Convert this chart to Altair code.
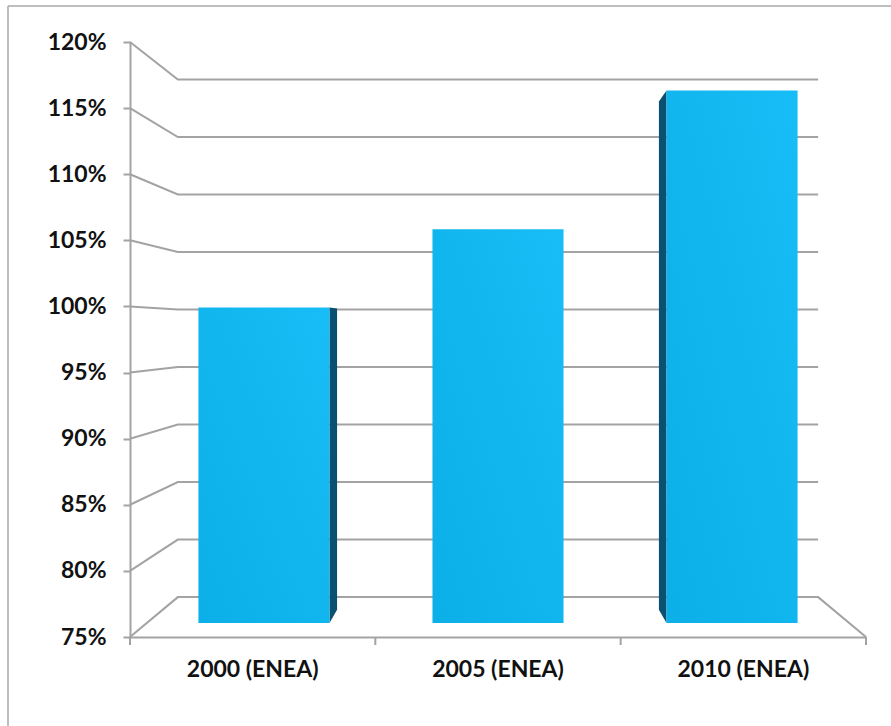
import altair as alt
import pandas as pd

# ---- chart values -------------------------------------------------------
categories = ["2000 (ENEA)", "2005 (ENEA)", "2010 (ENEA)"]
values = [100.0, 106.2, 117.2]          # percent
tick_values = [75, 80, 85, 90, 95, 100, 105, 110, 115, 120]

# ---- simple one-point perspective for the 3D look -----------------------
BASE = 75.0          # floor level (bottom of value axis)
U_C, V_C = 1.5, 98.2  # vanishing point in data units (x slots, percent)
WALL = 0.87          # scale factor of the back wall
BAR_FRONT = 0.954    # scale factor of the bars' front faces
BAR_BACK = 0.911     # scale factor of the bars' back faces
HALF_W = 0.28        # half bar width, in category slots
TICK_LEN = 8 / 13.22  # floor tick length, in percent units


def proj(u, v, s):
    return U_C + (u - U_C) * s, V_C + (v - V_C) * s


# side wall + back wall gridlines (and the floor outline at 75%)
grid_rows = []
for lv in tick_values:
    pts = [(0.0, float(lv)), proj(0.0, lv, WALL), proj(3.0, lv, WALL)]
    if lv == BASE:
        pts.append((3.0, BASE))
    for k, (u, v) in enumerate(pts):
        grid_rows.append({"level": lv, "k": k, "u": u, "v": v})
grid_df = pd.DataFrame(grid_rows)

# bar front faces and the visible side faces
front_rows, side_rows = [], []
for i, (cat, val) in enumerate(zip(categories, values)):
    c = i + 0.5
    x1, top = proj(c - HALF_W, val, BAR_FRONT)
    x2, bot = proj(c + HALF_W, BASE, BAR_FRONT)
    front_rows.append({"cat": cat, "x": x1, "x2": x2, "top": top, "bot": bot})
    edge = None
    if c + HALF_W < U_C:
        edge = c + HALF_W
    elif c - HALF_W > U_C:
        edge = c - HALF_W
    if edge is not None:
        for s in (BAR_FRONT, BAR_BACK):
            u, t = proj(edge, val, s)
            _, b = proj(edge, BASE, s)
            side_rows.append({"cat": cat, "u": u, "top": t, "bot": b})
front_df = pd.DataFrame(front_rows)
side_df = pd.DataFrame(side_rows)

floor_ticks = pd.DataFrame({"u": [0.0, 1.0, 2.0, 3.0], "v": [BASE] * 4,
                            "v2": [BASE - TICK_LEN] * 4})
cat_df = pd.DataFrame({"cat": categories, "v": [BASE] * 3})

GRID = "#a3a3a3"
FONT = "Lato"
LABEL_SIZE = 23

xq = alt.Scale(domain=[0, 3], nice=False, zero=False)
yq = alt.Scale(domain=[75, 120], nice=False, zero=False)

y_axis = alt.Axis(
    values=tick_values,
    labelExpr="datum.value + '%'",
    title=None,
    grid=False,
    tickSize=7,
    tickWidth=2,
    tickColor=GRID,
    domainColor=GRID,
    domainWidth=2,
    labelFont=FONT,
    labelFontWeight="bold",
    labelFontSize=LABEL_SIZE,
    labelColor="#111111",
    labelPadding=17,
)

grid = alt.Chart(grid_df).mark_line(color=GRID, strokeWidth=2).encode(
    x=alt.X("u:Q", scale=xq, axis=None),
    y=alt.Y("v:Q", scale=yq, axis=y_axis, title=None),
    detail="level:N",
    order="k:Q",
)

ticks = alt.Chart(floor_ticks).mark_rule(color=GRID, strokeWidth=2).encode(
    x=alt.X("u:Q", scale=xq, axis=None),
    y=alt.Y("v:Q", scale=yq, axis=y_axis, title=None),
    y2="v2:Q",
)

sides = alt.Chart(side_df).mark_area(color="#0a5070", orient="vertical").encode(
    x=alt.X("u:Q", scale=xq, axis=None),
    y=alt.Y("top:Q", scale=yq, axis=y_axis, title=None),
    y2="bot:Q",
    detail="cat:N",
)

fronts = alt.Chart(front_df).mark_rect(
    color=alt.Gradient(
        gradient="linear",
        stops=[
            alt.GradientStop(color="#0cafe8", offset=0),
            alt.GradientStop(color="#17bdf6", offset=1),
        ],
        x1=0, x2=1, y1=1, y2=0,
    )
).encode(
    x=alt.X("x:Q", scale=xq, axis=None),
    x2="x2:Q",
    y=alt.Y("top:Q", scale=yq, axis=y_axis, title=None),
    y2="bot:Q",
)

labels = alt.Chart(cat_df).mark_point(opacity=0).encode(
    x=alt.X(
        "cat:N",
        sort=categories,
        scale=alt.Scale(type="band", paddingInner=0, paddingOuter=0),
        axis=alt.Axis(
            orient="bottom",
            title=None,
            labelAngle=0,
            ticks=False,
            domainColor=GRID,
            domainWidth=2,
            labelFont=FONT,
            labelFontWeight="bold",
            labelFontSize=LABEL_SIZE,
            labelColor="#111111",
            labelPadding=21,
        ),
    ),
    y=alt.Y("v:Q", scale=yq, axis=y_axis, title=None),
)

frame_df = pd.DataFrame({"k": [0]})
frame_top = alt.Chart(frame_df).mark_rule(color="#a8a8a8", strokeWidth=1.5).encode(
    x=alt.value(-122), x2=alt.value(761), y=alt.value(-36)
)
frame_left = alt.Chart(frame_df).mark_rule(color="#a8a8a8", strokeWidth=1.5).encode(
    x=alt.value(-122), y=alt.value(-36), y2=alt.value(684)
)

chart = (
    alt.layer(grid, ticks, sides, fronts, labels, frame_top, frame_left)
    .resolve_scale(x="independent")
    .properties(
        width=736,
        height=595,
        autosize=alt.AutoSizeParams(type="none"),
        padding={"left": 130, "top": 42, "right": 25, "bottom": 89},
        background="white",
    )
    .configure_view(stroke=None)
)

chart.save("out.html", embed_options={"renderer": "svg", "actions": False})
